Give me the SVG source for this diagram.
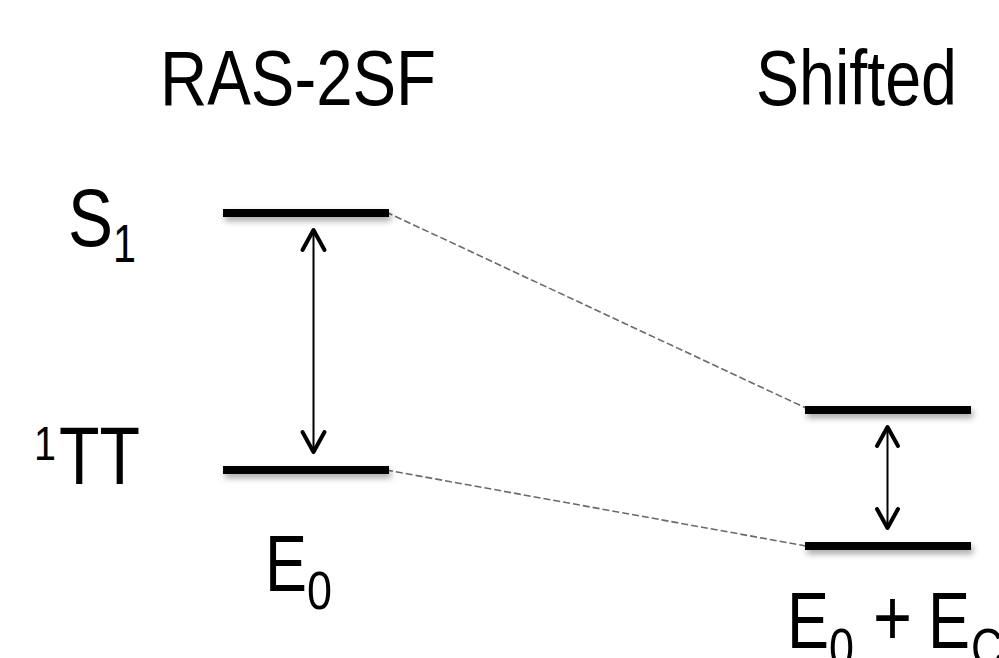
<svg xmlns="http://www.w3.org/2000/svg" width="999" height="658" viewBox="0 0 999 658">
  <style>
    .lbl { font-family: "Liberation Sans", Arial, sans-serif; fill: #000; }
    .bar { fill: #000; filter: url(#shadow); }
    .tie { stroke: #6a6a6a; stroke-width: 1.6; stroke-dasharray: 7 3; fill: none; }
    .shaft { stroke: #000; stroke-width: 2; fill: none; }
    .head { stroke: #000; stroke-width: 4; fill: none; stroke-linecap: round; stroke-linejoin: round; }
  </style>
  <defs>
    <filter id="shadow" x="-10%" y="-200%" width="120%" height="500%">
      <feDropShadow dx="2" dy="4" stdDeviation="3" flood-color="#000" flood-opacity="0.35"/>
    </filter>
  </defs>
  <rect width="999" height="658" fill="#fff"/>

  <!-- column titles -->
  <g id="title-ras">
    <text class="lbl" x="160" y="105" font-size="77" textLength="276" lengthAdjust="spacingAndGlyphs">RAS-2SF</text>
  </g>
  <g id="title-shifted">
    <text class="lbl" x="756" y="105" font-size="77" textLength="201" lengthAdjust="spacingAndGlyphs">Shifted</text>
  </g>

  <!-- state labels -->
  <g id="label-s1">
    <text class="lbl" x="68" y="246" font-size="82" textLength="45" lengthAdjust="spacingAndGlyphs">S</text>
    <text class="lbl" x="113" y="262" font-size="54" textLength="23" lengthAdjust="spacingAndGlyphs">1</text>
  </g>
  <g id="label-1tt">
    <text class="lbl" x="34" y="460" font-size="49" textLength="22" lengthAdjust="spacingAndGlyphs">1</text>
    <text class="lbl" x="59" y="484" font-size="81" textLength="81" lengthAdjust="spacingAndGlyphs">TT</text>
  </g>
  <g id="label-e0">
    <text class="lbl" x="265" y="591" font-size="80" textLength="42" lengthAdjust="spacingAndGlyphs">E</text>
    <text class="lbl" x="307" y="609" font-size="53" textLength="25" lengthAdjust="spacingAndGlyphs">0</text>
  </g>
  <g id="label-e0-ec">
    <text class="lbl" x="787" y="648" font-size="80" textLength="42" lengthAdjust="spacingAndGlyphs">E</text>
    <text class="lbl" x="829" y="666" font-size="53" textLength="25" lengthAdjust="spacingAndGlyphs">0</text>
    <text class="lbl" x="873" y="645" font-size="80" textLength="39" lengthAdjust="spacingAndGlyphs">+</text>
    <text class="lbl" x="928" y="648" font-size="80" textLength="42" lengthAdjust="spacingAndGlyphs">E</text>
    <text class="lbl" x="971" y="666" font-size="53" textLength="32" lengthAdjust="spacingAndGlyphs">C</text>
  </g>

  <!-- connectors -->
  <g id="connectors">
    <line class="tie" x1="386" y1="212" x2="808" y2="409"/>
    <line class="tie" x1="386" y1="470" x2="806" y2="546"/>
    <line class="shaft" x1="313.5" y1="230" x2="313.5" y2="452"/>
    <polyline class="head" points="302.5,250 313.5,230 324.5,250"/>
    <polyline class="head" points="302.5,432 313.5,452 324.5,432"/>
    <line class="shaft" x1="887.5" y1="427" x2="887.5" y2="528"/>
    <polyline class="head" points="877,446 887.5,427 898,446"/>
    <polyline class="head" points="877,509 887.5,528 898,509"/>
  </g>

  <!-- energy levels -->
  <g id="level-s1"><rect class="bar" x="223" y="209" width="166" height="8"/></g>
  <g id="level-1tt"><rect class="bar" x="223" y="466" width="166" height="8"/></g>
  <g id="level-s1-shifted"><rect class="bar" x="805" y="406" width="166" height="8"/></g>
  <g id="level-1tt-shifted"><rect class="bar" x="805" y="542" width="166" height="8"/></g>
</svg>
